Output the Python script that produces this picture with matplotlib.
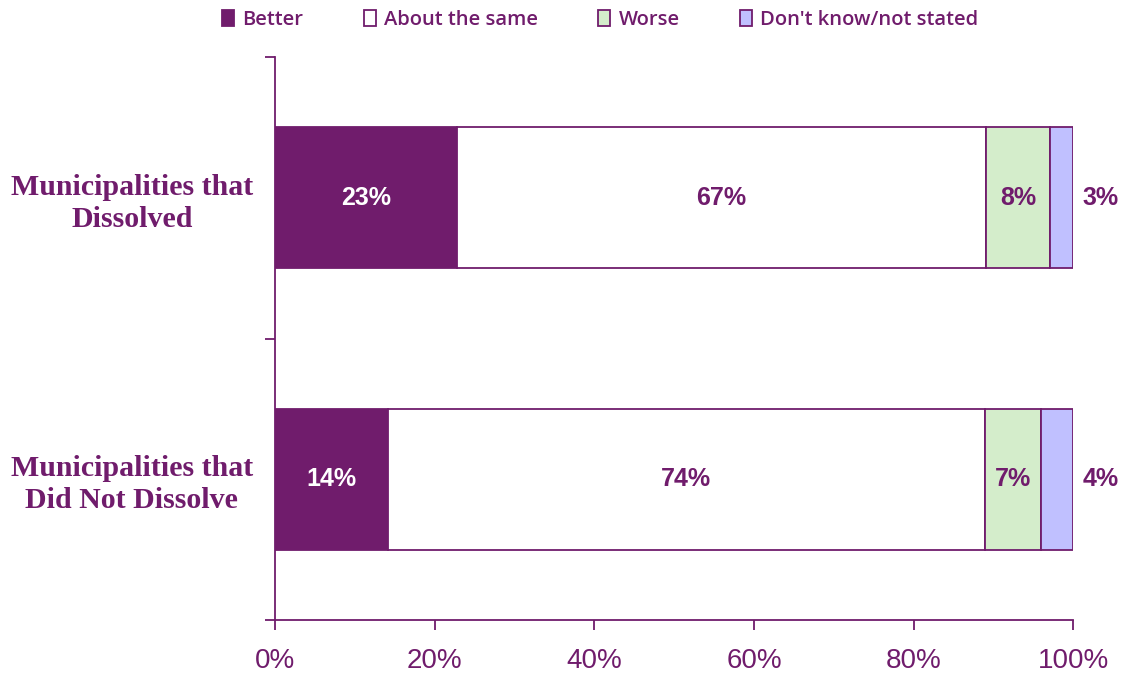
import numpy as np
import matplotlib.pyplot as plt

categories = ["Municipalities that\nDid Not Dissolve", "Municipalities that\nDissolved"]
series = ["Better", "About the same", "Worse", "Don't know/not stated"]
better = [14, 23]
same = [74, 67]
worse = [7, 8]
dontknow = [4, 3]

purple = "#701C6C"
colors = [purple, "#FFFFFF", "#D4EDCB", "#C0C0FF"]
label_colors = ["white", purple, purple, purple]

values = np.array([better, same, worse, dontknow], dtype=float)
shares = values / values.sum(axis=0) * 100  # bars are scaled to 100%

fig = plt.figure(figsize=(11.26, 6.75), dpi=100)
ax = fig.add_axes([0.2442, 0.0815, 0.709, 0.834])

y = np.arange(len(categories))
left = np.zeros(len(categories))
for i, name in enumerate(series):
    bars = ax.barh(y, shares[i], left=left, height=0.5, color=colors[i],
                   edgecolor=purple, linewidth=1.3, label=name)
    for j, b in enumerate(bars):
        txt = f"{values[i, j]:.0f}%"
        if i == len(series) - 1:
            ax.text(left[j] + shares[i, j] + 1.2, y[j], txt, ha="left", va="center",
                    color=purple, fontsize=18, fontweight="bold", family="Liberation Sans")
        else:
            ax.text(left[j] + shares[i, j] / 2, y[j], txt, ha="center", va="center",
                    color=label_colors[i], fontsize=18, fontweight="bold",
                    family="Liberation Sans")
    left += shares[i]

ax.set_xlim(0, 100)
ax.set_ylim(-0.5, 1.5)
ax.set_xticks(np.arange(0, 101, 20))
ax.set_xticklabels([f"{v}%" for v in range(0, 101, 20)], color=purple,
                   fontsize=20, family="Liberation Sans")
ax.set_yticks(y)
ax.set_yticklabels(categories, color=purple, fontsize=21.5, fontweight="bold",
                   family="Liberation Serif", ha="center", linespacing=1.25)
ax.tick_params(axis="y", length=0, pad=103)
ax.set_yticks([-0.5, 0.5, 1.5], minor=True)
ax.tick_params(axis="y", which="minor", length=7, color=purple, width=1.3)
ax.tick_params(axis="x", length=7, color=purple, width=1.3, pad=13)

for s in ["top", "right"]:
    ax.spines[s].set_visible(False)
for s in ["left", "bottom"]:
    ax.spines[s].set_color(purple)
    ax.spines[s].set_linewidth(1.3)

leg = fig.legend(loc="upper center", bbox_to_anchor=(0.533, 1.012), ncol=4, frameon=False,
                 handlelength=0.6, handleheight=0.8, handletextpad=0.4,
                 columnspacing=3.0,
                 prop={"family": "Open Sans", "size": 14.5, "weight": "semibold"})
for t in leg.get_texts():
    t.set_color(purple)

fig.savefig("out.png", dpi=100)
